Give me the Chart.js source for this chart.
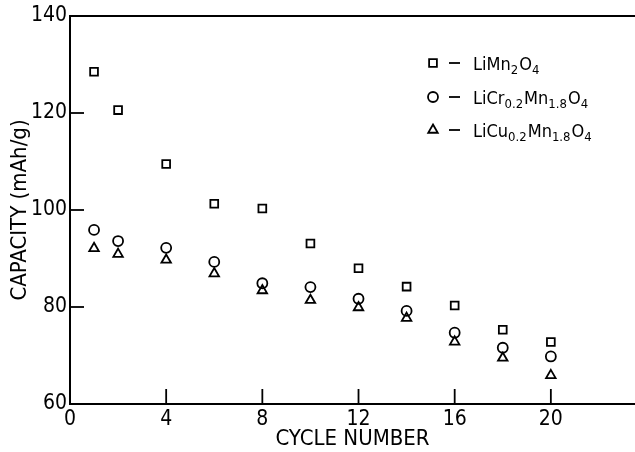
<!DOCTYPE html>
<html>
<head>
<meta charset="utf-8">
<script src="https://cdn.jsdelivr.net/npm/chart.js@4/dist/chart.umd.min.js"></script>
<style>
  html, body { margin: 0; padding: 0; background: #fff; }
  #wrap { width: 635px; height: 452px; }
</style>
</head>
<body>
<div id="wrap"><canvas id="chart"></canvas></div>
<script>
const cycles = [1, 2, 4, 6, 8, 10, 12, 14, 16, 18, 20];
const limn = [128.5, 120.6, 109.5, 101.3, 100.3, 93.1, 88.0, 84.2, 80.3, 75.3, 72.8];
const licr = [95.9, 93.6, 92.2, 89.3, 84.9, 84.1, 81.7, 79.2, 74.7, 71.6, 69.8];
const licu = [92.1, 90.9, 89.7, 86.9, 83.4, 81.4, 79.9, 77.7, 72.8, 69.5, 65.9];

const xTicks = [0, 4, 8, 12, 16, 20];
const yTicks = [60, 80, 100, 120, 140];

// legend rows: [text, isSubscript]
const legendRows = [
    [['LiMn', 0], ['2', 1], ['O', 0], ['4', 1]],
    [['LiCr', 0], ['0.2', 1], ['Mn', 0], ['1.8', 1], ['O', 0], ['4', 1]],
    [['LiCu', 0], ['0.2', 1], ['Mn', 0], ['1.8', 1], ['O', 0], ['4', 1]]
];

const FONT = '"Liberation Sans Narrow", "DejaVu Sans Condensed", "Roboto", sans-serif';

function pts(ys) {
    return cycles.map((c, i) => ({ x: c, y: ys[i] }));
}

function series(label, ys, style, r) {
    return {
        label: label,
        data: pts(ys),
        pointStyle: style,
        pointRadius: r,
        pointHoverRadius: r,
        pointBorderWidth: 1.8,
        borderColor: '#000',
        backgroundColor: 'rgba(0,0,0,0)',
        showLine: false
    };
}

const frame = {
    id: 'frame',
    afterDraw(chart) {
        const ctx = chart.ctx;
        const a = chart.chartArea;
        const xs = chart.scales.x, ys = chart.scales.y;
        ctx.save();
        ctx.strokeStyle = '#000';
        ctx.lineWidth = 2;
        // top line of the frame
        ctx.beginPath();
        ctx.moveTo(a.left, a.top);
        ctx.lineTo(chart.width, a.top);
        ctx.stroke();
        // inward ticks
        ctx.lineWidth = 1.8;
        xTicks.slice(1).forEach(v => {
            const px = xs.getPixelForValue(v);
            ctx.beginPath();
            ctx.moveTo(px, a.bottom);
            ctx.lineTo(px, a.bottom - 15);
            ctx.stroke();
        });
        yTicks.slice(1, -1).forEach(v => {
            const py = ys.getPixelForValue(v);
            ctx.beginPath();
            ctx.moveTo(a.left, py);
            ctx.lineTo(a.left + 14, py);
            ctx.stroke();
        });

        // legend
        const styles = ['rect', 'circle', 'triangle'];
        const radii = [5.5, 5, 5.5];
        const rowY = [63, 97, 130];
        ctx.textBaseline = 'alphabetic';
        legendRows.forEach((row, i) => {
            const y = rowY[i];
            ctx.fillStyle = '#fff';
            ctx.strokeStyle = '#000';
            ctx.lineWidth = 1.8;
            Chart.helpers.drawPoint(ctx, {
                pointStyle: styles[i], radius: radii[i], borderWidth: 1.8
            }, 433, y);
            ctx.beginPath();
            ctx.moveTo(449, y);
            ctx.lineTo(460, y);
            ctx.stroke();
            ctx.fillStyle = '#000';
            let x = 473;
            row.forEach(([t, sub]) => {
                ctx.font = sub ? '13px ' + FONT : '18px ' + FONT;
                ctx.fillText(t, x, sub ? y + 11 : y + 7);
                x += ctx.measureText(t).width + (sub ? 1 : 0);
            });
        });
        ctx.restore();
    }
};

new Chart(document.getElementById('chart').getContext('2d'), {
    type: 'scatter',
    data: {
        datasets: [
            series('LiMn2O4', limn, 'rect', 5.5),
            series('LiCr0.2Mn1.8O4', licr, 'circle', 5),
            series('LiCu0.2Mn1.8O4', licu, 'triangle', 5.5)
        ]
    },
    options: {
        responsive: true,
        maintainAspectRatio: false,
        animation: false,
        layout: { autoPadding: false, padding: { top: 16, right: 0, left: 0, bottom: 0 } },
        plugins: {
            legend: { display: false },
            tooltip: { enabled: false }
        },
        scales: {
            x: {
                type: 'linear',
                min: 0,
                max: 23.5,
                afterBuildTicks: s => { s.ticks = xTicks.map(v => ({ value: v })); },
                afterFit: s => { s.height = 48; },
                grid: { display: false, drawTicks: false },
                border: { display: true, color: '#000', width: 2 },
                ticks: {
                    color: '#000',
                    padding: 3,
                    font: { family: FONT, size: 21 }
                },
                title: {
                    display: true,
                    text: 'CYCLE NUMBER',
                    color: '#000',
                    padding: { top: 0, bottom: 0 },
                    font: { family: FONT, size: 22 }
                }
            },
            y: {
                min: 60,
                max: 140,
                afterBuildTicks: s => { s.ticks = yTicks.map(v => ({ value: v })); },
                afterFit: s => { s.width = 70; },
                grid: { display: false, drawTicks: false },
                border: { display: true, color: '#000', width: 2 },
                ticks: {
                    color: '#000',
                    padding: 3,
                    font: { family: FONT, size: 21 }
                },
                title: {
                    display: true,
                    text: 'CAPACITY (mAh/g)',
                    color: '#000',
                    padding: { top: 7, bottom: 0 },
                    font: { family: FONT, size: 22 }
                }
            }
        }
    },
    plugins: [frame]
});
</script>
</body>
</html>
